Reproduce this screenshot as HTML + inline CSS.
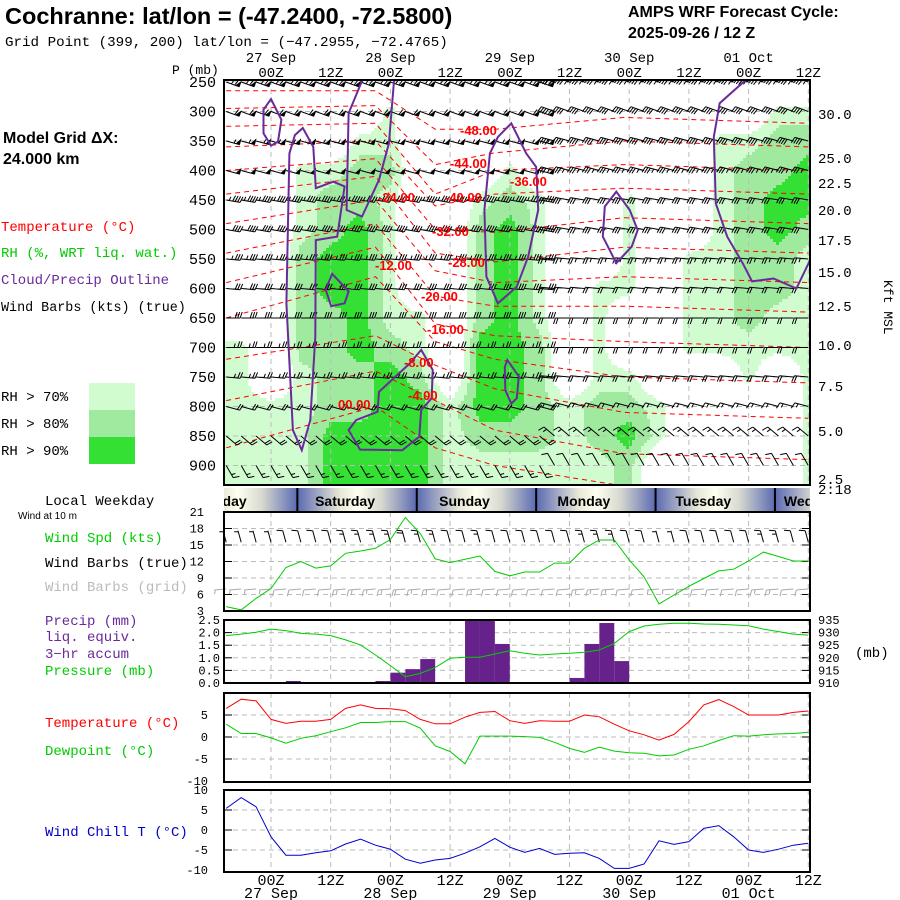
<!DOCTYPE html>
<html><head><meta charset="utf-8">
<style>
body{margin:0;background:#fff;}
svg{display:block;}
text{font-family:"Liberation Mono",monospace;}
.sans{font-family:"Liberation Sans",sans-serif;}
</style></head>
<body>
<svg id="chart" width="900" height="900" viewBox="0 0 900 900" xmlns="http://www.w3.org/2000/svg">
<defs>
<linearGradient id="dayg" x1="0" x2="1" y1="0" y2="0">
<stop offset="0" stop-color="#5b6ab2"/><stop offset="0.35" stop-color="#e6e6d6"/><stop offset="0.5" stop-color="#fffff0"/><stop offset="0.7" stop-color="#d8dad0"/><stop offset="1" stop-color="#5b6ab2"/>
</linearGradient>
<clipPath id="mainclip"><rect x="224" y="80" width="586" height="405"/></clipPath>
<clipPath id="dayclip"><rect x="224" y="488" width="586" height="24"/></clipPath>
</defs>
<g id="static">
<text class="sans" x="5" y="24" font-size="23.5" font-weight="bold">Cochranne:  lat/lon = (-47.2400, -72.5800)</text>
<text x="5" y="46" font-size="14.2">Grid Point (399, 200) lat/lon = (−47.2955, −72.4765)</text>
<text class="sans" x="628" y="17" font-size="16" font-weight="bold">AMPS WRF Forecast Cycle:</text>
<text class="sans" x="628" y="38" font-size="16" font-weight="bold">2025-09-26 / 12  Z</text>
<text class="sans" x="3" y="143" font-size="16" font-weight="bold">Model Grid ΔX:</text>
<text class="sans" x="3" y="164" font-size="16" font-weight="bold"> 24.000 km</text>
<text x="1" y="231" font-size="14" fill="#f00">Temperature (°C)</text>
<text x="1" y="257" font-size="14" fill="#0c0">RH (%, WRT liq. wat.)</text>
<text x="1" y="284" font-size="14" fill="#6a2a9a">Cloud/Precip Outline</text>
<text x="1" y="311" font-size="13.4">Wind Barbs (kts) (true)</text>
<text x="1" y="401" font-size="14">RH &gt; 70%</text>
<text x="1" y="428" font-size="14">RH &gt; 80%</text>
<text x="1" y="455" font-size="14">RH &gt; 90%</text>
<rect x="89" y="383" width="46" height="27" fill="#d0fcd0"/>
<rect x="89" y="410" width="46" height="27" fill="#a0eaa0"/>
<rect x="89" y="437" width="46" height="27" fill="#33e033"/>
<text x="45" y="505" font-size="14">Local Weekday</text>
<text class="sans" x="18" y="519" font-size="10">Wind at 10 m</text>
<text x="45" y="542" font-size="14" fill="#0c0">Wind Spd (kts)</text>
<text x="45" y="567" font-size="14">Wind Barbs (true)</text>
<text x="45" y="591" font-size="14" fill="#bbb">Wind Barbs (grid)</text>
<text x="45" y="625" font-size="14" fill="#6a2a9a">Precip (mm)</text>
<text x="45" y="641" font-size="14" fill="#6a2a9a">liq. equiv.</text>
<text x="45" y="658" font-size="14" fill="#6a2a9a">3−hr accum</text>
<text x="45" y="675" font-size="14" fill="#0c0">Pressure (mb)</text>
<text x="45" y="727" font-size="14" fill="#f00">Temperature (°C)</text>
<text x="45" y="755" font-size="14" fill="#0c0">Dewpoint (°C)</text>
<text x="45" y="836" font-size="14" fill="#00c">Wind Chill T (°C)</text>
<text x="172" y="74" font-size="13">P (mb)</text>
<text x="855" y="657" font-size="14">(mb)</text>
<text x="0" y="0" font-size="13" transform="translate(884,280) rotate(90)">Kft MSL</text>
</g>
<g id="dyn"></g>
</svg>
<script>
// ---------- data ----------
const levels=[250,300,350,400,450,500,550,600,650,700,750,800,850,900];
const hours=[0,3,6,9,12,15,18,21,24,27,30,33,36,39,42,45,48,51,54,57,60,63,66,69,72,75,78,81,84,87,90,93,96,99,102,105,108,111,114,117];
const windSpd=[3.8,3.2,5.3,7.1,10.9,12.0,10.8,11.2,13.5,13.9,14.4,16.0,20.0,17.1,12.5,11.8,12.4,13.0,10.2,9.4,10.1,10.1,11.7,11.7,14.4,15.9,15.9,12.3,9.2,4.3,5.9,7.5,8.9,10.3,10.6,12.1,13.7,12.9,12.1,12.1];
const precip=[0,0,0,0,0.08,0,0,0,0,0.04,0.08,0.41,0.55,0.95,0.04,0,2.6,2.6,1.55,0,0,0,0,0.2,1.55,2.38,0.87,0,0,0,0,0,0,0,0,0,0,0,0];
const sfcPres=[928.8,929.4,930.1,931.4,930.8,929.7,929.4,928.8,927.1,925.1,921.1,916.9,912.5,913.8,916.1,919.8,920.2,920.2,921.5,922.8,921.8,921.1,921.5,921.8,922.2,923.1,925.7,930.4,932.6,933.3,933.7,933.7,933.4,933.3,933.0,932.7,931.4,930.4,929.4,929.0];
const temp=[6.5,8.6,8.2,4.0,3.1,3.6,3.6,4.0,6.5,7.3,6.5,6.4,6.0,4.0,3.0,3.0,4.5,5.6,5.8,3.7,3.1,3.7,3.6,3.6,5.0,4.6,2.9,1.4,0.5,-0.7,0.6,3.5,7.3,8.5,6.9,5.0,5.0,5.0,5.6,5.9];
const dewpt=[2.9,0.8,0.8,-0.2,-1.4,-0.3,0.3,1.2,2.1,3.3,3.3,3.5,3.5,2.0,-2.0,-3.3,-6.1,0.2,0.2,0.2,0.1,-0.1,-1.2,-2.6,-3.5,-2.3,-3.2,-3.6,-3.7,-4.3,-4.1,-2.8,-2.0,-0.8,0.3,0.2,0.5,0.7,0.8,1.1];
const windChill=[5.4,8.1,5.8,-1.7,-6.3,-6.3,-5.7,-5.2,-3.5,-2.3,-3.8,-4.8,-7.3,-8.3,-7.5,-7.1,-5.8,-4.2,-2.1,-4.3,-5.6,-4.6,-6.1,-5.8,-5.7,-7.1,-9.6,-9.6,-8.5,-2.7,-3.6,-2.9,0.4,1.1,-1.7,-5.0,-5.6,-4.8,-3.8,-3.3];
// RH grid: 20 columns (6-hourly, centred at 3h+6c) x 14 levels
const rhCols=[
[50,50,50,50,50,50,50,50,50,75,75,75,75,75],
[50,50,50,50,50,50,50,50,50,50,50,75,75,75],
[50,50,50,75,75,75,85,85,85,85,75,75,75,75],
[50,50,50,75,85,85,95,95,85,85,85,85,95,95],
[50,50,75,85,85,95,95,95,95,95,85,85,95,95],
[50,75,75,85,75,75,75,75,75,85,95,95,95,95],
[50,50,50,50,50,50,50,50,75,75,85,95,95,95],
[50,50,50,50,50,50,50,50,50,50,50,75,75,75],
[50,50,50,50,75,85,85,85,85,95,95,95,85,75],
[50,50,50,75,85,95,95,95,95,95,95,95,85,75],
[50,50,50,50,75,75,75,75,75,85,85,85,85,75],
[50,50,50,50,50,50,50,50,50,50,50,75,75,75],
[50,50,50,50,50,50,50,75,75,75,75,85,85,75],
[50,50,50,50,75,75,75,75,50,50,75,85,95,85],
[50,50,50,50,50,50,50,50,50,50,50,75,75,50],
[50,50,50,50,50,50,75,75,75,75,50,50,50,50],
[50,50,75,75,75,75,75,75,75,75,50,50,50,50],
[50,50,75,85,85,85,85,85,85,75,75,50,50,50],
[50,75,85,85,95,95,85,85,75,75,50,50,50,50],
[50,75,85,95,95,85,75,75,75,75,75,75,75,75]];
const isoKnots=[0,30,42,54,80,117];
const isoVals=[0,-4,-8,-12,-16,-20,-24,-28,-32,-36,-40,-44,-48];
const isoPres=[
[870,800,870,900,935,940],
[790,740,790,840,880,890],
[720,680,730,770,810,820],
[650,580,690,720,750,760],
[590,530,660,680,690,700],
[540,490,613,630,630,640],
[490,450,570,590,580,590],
[440,410,540,555,530,540],
[400,380,500,505,480,490],
[360,350,460,440,430,440],
[325,320,440,400,390,400],
[295,290,390,370,350,360],
[265,265,330,330,310,320]];
const levelSpd=[65,60,55,50,45,40,35,30,30,25,25,20,20,15];
const levelDir=[290,290,285,285,280,280,275,275,270,270,275,285,310,330];
// feather side per time: 1 = westerly from left half, -1 = eastern half style
const timeRegime=[1,1,1,1,1,1,1,1,1,1,1,1,1,1,1,1,1,1,1,1,1,1,-1,-1,-1,-1,-1,-1,-1,-1,-1,-1,-1,-1,-1,-1,-1,-1,-1,-1];
const outlines=[
{closed:true,pts:[[9,279],[11.1,314],[10.4,351],[9,358],[7.5,337],[7.5,297]]},
{closed:true,pts:[[15.4,328],[17.5,360],[18,430],[21.5,419],[23.8,427],[22.3,512],[18,518],[17.9,682],[16.9,823],[15.2,874],[13.4,840],[12.1,625],[12.7,371],[13.8,340]]},
{closed:false,pts:[[27.7,240],[24.6,303],[24.2,467],[27.3,478],[30.7,416],[32.7,354],[33.8,240]]},
{closed:true,pts:[[21.3,575],[24.6,605],[23.8,625],[21.1,630],[20,602]]},
{closed:true,pts:[[39.2,704],[41.5,738],[41.3,786],[39.2,806],[38.8,851],[35.4,874],[26.9,873],[24.6,840],[26.1,823],[30.4,809],[30.7,775],[36.9,727]]},
{closed:true,pts:[[57.3,320],[60.3,371],[62.3,394],[62.7,467],[60.7,546],[58.4,597],[54.6,625],[52.3,580],[51.9,467],[53,371],[54.6,343]]},
{closed:true,pts:[[56.5,721],[58.8,749],[58.4,786],[57.3,795],[56.1,772],[56,733]]},
{closed:true,pts:[[78.4,436],[81.1,467],[82.7,501],[81.5,529],[78.4,557],[75.7,512],[76.1,461]]},
{closed:false,pts:[[105.3,240],[99.2,286],[98,343],[98.4,456],[100.7,512],[103.8,557],[105.7,588],[110,583],[114.6,600],[117.7,546],[119,500]]}];
const isoLabels=[["-48.00",460,135],["-44.00",450,168],["-40.00",445,202],["-36.00",510,186],["-32.00",432,236],["-28.00",448,267],["-24.00",378,202],["-12.00",375,270],["-20.00",421,301],["-16.00",427,334],["-8.00",404,367],["-4.00",408,400],["00.00",338,409]];
const pTicks=[250,300,350,400,450,500,550,600,650,700,750,800,850,900];
const kftTicks=[["30.0",114],["25.0",158],["22.5",183],["20.0",210],["17.5",240],["15.0",272],["12.5",306],["10.0",345],["7.5",386],["5.0",431],["2.5",479],["2:18",489]];
const topDates=[["27 Sep",9],["28 Sep",33],["29 Sep",57],["30 Sep",81],["01 Oct",105]];
const timeTicks=[["00Z",9],["12Z",21],["00Z",33],["12Z",45],["00Z",57],["12Z",69],["00Z",81],["12Z",93],["00Z",105],["12Z",117]];
const dayNames=["Friday","Saturday","Sunday","Monday","Tuesday","Wednesday"];
const dayStarts=[-9.7,14.3,38.3,62.3,86.3,110.3];

// ---------- scales ----------
const X=t=>271+(t-9)*4.975;
const TX=x=>(x-271)/4.975+9;
const PY=p=>82+(p-250)*0.59;
const YP=y=>(y-82)/0.59+250;
const WY=k=>512+(21-k)*5.5;
const RY=mm=>683-mm*25.2;
const SPY=mb=>683-(mb-910)*2.52;
const TY=c=>737-c*4.4;
const CY=c=>830-c*4.0;
const NS="http://www.w3.org/2000/svg";
const dyn=document.getElementById('dyn');
function mk(tag,attrs,parent){const e=document.createElementNS(NS,tag);for(const k in attrs)e.setAttribute(k,attrs[k]);(parent||dyn).appendChild(e);return e;}
function grp(name,extra){const g=mk('g',extra||{});


return g;}

// ---------- main panel ----------
const mainG=grp('height-time-section',{'clip-path':'url(#mainclip)'});
mk('rect',{x:224,y:80,width:586,height:405,fill:'#fff'},mainG);
const rhG=grp('rh-fill');mainG.appendChild(rhG);
function rhAt(t,p){
  let fc=(t-3)/6;fc=Math.max(0,Math.min(rhCols.length-1,fc));
  let fl=(p-250)/50;fl=Math.max(0,Math.min(levels.length-1,fl));
  const c0=Math.floor(fc),c1=Math.min(c0+1,rhCols.length-1),l0=Math.floor(fl),l1=Math.min(l0+1,levels.length-1);
  const a=fc-c0,b=fl-l0;
  return (rhCols[c0][l0]*(1-a)+rhCols[c1][l0]*a)*(1-b)+(rhCols[c0][l1]*(1-a)+rhCols[c1][l1]*a)*b;
}
const CS=3;
for(let y=80;y<485;y+=CS){
  let runStart=null,runCol=null;
  const flush=(xe)=>{if(runCol){const r=mk('rect',{x:runStart,y:y,width:xe-runStart+0.3,height:CS+0.3,fill:runCol},rhG);
    
    }};
  for(let x=224;x<=810;x+=CS){
    let col=null;
    if(x<810){const v=rhAt(TX(x+CS/2),YP(y+CS/2));col=v>=90?'#33e033':(v>=80?'#a0eaa0':(v>=70?'#d0fcd0':null));}
    if(col!==runCol){flush(x);runStart=x;runCol=col;}
  }
  flush(810);
}
const gridG=grp('main-grid');mainG.appendChild(gridG);
levels.forEach(p=>mk('line',{x1:224,x2:810,y1:PY(p),y2:PY(p),stroke:'#bbb','stroke-dasharray':'5,4'},gridG));
timeTicks.forEach(tt=>mk('line',{x1:X(tt[1]),x2:X(tt[1]),y1:80,y2:485,stroke:'#bbb','stroke-dasharray':'5,4'},gridG));
const isoG=grp('isotherms');mainG.appendChild(isoG);
isoPres.forEach((row,i)=>{
  const d=row.map((p,j)=>(j?'L':'M')+X(isoKnots[j]).toFixed(1)+','+PY(p).toFixed(1)).join(' ');
  const l=mk('path',{d:d,fill:'none',stroke:'#f00','stroke-width':1,'stroke-dasharray':'5,4'},isoG);
  
  
});
function barb(g,x,y,spd,dir,color,len){
  const a=dir*Math.PI/180;const ux=Math.sin(a),uy=-Math.cos(a);
  const ex=x+ux*len,ey=y+uy*len;
  let d='M'+x.toFixed(1)+','+y.toFixed(1)+'L'+ex.toFixed(1)+','+ey.toFixed(1);
  const px=uy,py=-ux;const fl=6;let s=Math.round(spd/5)*5;let pos=0;let polys='';
  while(s>=50){const bx=ex-ux*pos,by=ey-uy*pos;const cx=ex-ux*(pos+4),cy=ey-uy*(pos+4);
    polys+='M'+bx.toFixed(1)+','+by.toFixed(1)+'L'+(bx+px*fl).toFixed(1)+','+(by+py*fl).toFixed(1)+'L'+cx.toFixed(1)+','+cy.toFixed(1)+'Z';s-=50;pos+=5;}
  while(s>=10){const bx=ex-ux*pos,by=ey-uy*pos;d+='M'+bx.toFixed(1)+','+by.toFixed(1)+'L'+(bx+px*fl+ux*2).toFixed(1)+','+(by+py*fl+uy*2).toFixed(1);s-=10;pos+=2.5;}
  if(s>=5){const bx=ex-ux*(pos+1),by=ey-uy*(pos+1);d+='M'+bx.toFixed(1)+','+by.toFixed(1)+'L'+(bx+px*4+ux).toFixed(1)+','+(by+py*4+uy).toFixed(1);}
  const pth=mk('path',{d:d,stroke:color,'stroke-width':1,fill:'none'},g);
  
  
  if(polys){mk('path',{d:polys,fill:color,stroke:color,'stroke-width':0.5},g);}
}
const barbG=grp('upper-wind-barbs');mainG.appendChild(barbG);
levels.forEach((p,i)=>{hours.forEach((t,j)=>{
  const dir=timeRegime[j]>0?(levelDir[i]-180):levelDir[i];
  const spd=timeRegime[j]>0?levelSpd[i]:levelSpd[i]*0.7;
  barb(barbG,X(t),PY(p),spd,dir,'#000',14);});});
const outG=grp('cloud-outlines');mainG.appendChild(outG);
outlines.forEach(o=>{
  const d=o.pts.map((pt,j)=>(j?'L':'M')+X(pt[0]).toFixed(1)+','+PY(pt[1]).toFixed(1)).join(' ')+(o.closed?'Z':'');
  const e=mk('path',{d:d,fill:'none',stroke:'#6a2a9a','stroke-width':2},outG);
  
  
});
isoLabels.forEach(l=>{const t=mk('text',{x:l[1],y:l[2],'font-size':13,'font-weight':'bold',fill:'#f00',class:'sans'},mainG);t.textContent=l[0];
  
  });
mk('rect',{x:224,y:80,width:586,height:405,fill:'none',stroke:'#000','stroke-width':2});
pTicks.forEach(p=>{const t=mk('text',{x:216,y:PY(p)+5,'font-size':15,'text-anchor':'end'});t.textContent=p;
  
  });
kftTicks.forEach(k=>{const t=mk('text',{x:818,y:k[1]+5,'font-size':14});t.textContent=k[0];
  
  });
topDates.forEach(d=>{const t=mk('text',{x:X(d[1]),y:62,'font-size':14,'text-anchor':'middle'});t.textContent=d[0];
  
  });
timeTicks.forEach(tt=>{const t=mk('text',{x:X(tt[1]),y:77,'font-size':14,'text-anchor':'middle'});t.textContent=tt[0];
  
  });

// ---------- day bar ----------
const dayG=grp('weekday-bar',{'clip-path':'url(#dayclip)'});
dayStarts.forEach((s,i)=>{
  const x0=X(s),x1=X(s+24);
  mk('rect',{x:x0,y:488,width:x1-x0,height:24,fill:'url(#dayg)'},dayG);
  mk('line',{x1:x0,x2:x0,y1:488,y2:512,stroke:'#000','stroke-width':2},dayG);
  const t=mk('text',{x:(x0+x1)/2-12,y:506,'font-size':14,'font-weight':'bold','text-anchor':'middle',class:'sans'},dayG);t.textContent=dayNames[i];
  
  
});

// ---------- panels ----------
function panel(name,y0,y1,gridVals,yf){
  const g=grp(name);
  mk('rect',{x:224,y:y0,width:586,height:y1-y0,fill:'#fff'},g);
  gridVals.forEach(v=>{mk('line',{x1:224,x2:810,y1:yf(v),y2:yf(v),stroke:'#bbb','stroke-dasharray':'5,4'},g);
    mk('line',{x1:224,x2:232,y1:yf(v),y2:yf(v),stroke:'#000'},g);mk('line',{x1:802,x2:810,y1:yf(v),y2:yf(v),stroke:'#000'},g);});
  timeTicks.forEach(tt=>mk('line',{x1:X(tt[1]),x2:X(tt[1]),y1:y0,y2:y1,stroke:'#bbb','stroke-dasharray':'5,4'},g));
  return g;
}
function line(g,vals,yf,color,name){
  const d=vals.map((v,i)=>(i?'L':'M')+X(hours[i]).toFixed(1)+','+yf(v).toFixed(1)).join(' ');
  const e=mk('path',{d:d,fill:'none',stroke:color,'stroke-width':1},g);
  
  
}
function frame(y0,y1){mk('rect',{x:224,y:y0,width:586,height:y1-y0,fill:'none',stroke:'#000','stroke-width':2});}
function ticks(arr,yf,x,anchor,size){arr.forEach(v=>{const t=mk('text',{x:x,y:yf(v[0])+4,'font-size':size,'text-anchor':anchor});t.textContent=v[1];
  
  });}

const wG=panel('wind-panel',512,611,[6,9,12,15,18],WY);
const sbG=grp('surface-barbs');wG.appendChild(sbG);
hours.forEach((t,i)=>{barb(sbG,X(t),WY(15.5),windSpd[i],345,'#000',12);barb(sbG,X(t),WY(7),windSpd[i],265,'#aaa',12);});
line(wG,windSpd,WY,'#0c0','wind-speed-line');
frame(512,611);
ticks([[21,'21'],[18,'18'],[15,'15'],[12,'12'],[9,'9'],[6,'6'],[3,'3']],WY,204,'end',12);

const pG=panel('precip-panel',620,683,[0.5,1,1.5,2],RY);
const barsG=grp('precip-bars');pG.appendChild(barsG);
precip.forEach((v,i)=>{if(v<=0)return;const top=RY(Math.min(v,2.5));
  const r=mk('rect',{x:X(hours[i]),y:top,width:X(hours[i+1])-X(hours[i]),height:683-top,fill:'#66228a'},barsG);
  
  });
line(pG,sfcPres,SPY,'#0c0','surface-pressure-line');
frame(620,683);
ticks([[2.5,'2.5'],[2,'2.0'],[1.5,'1.5'],[1,'1.0'],[0.5,'0.5'],[0,'0.0']],RY,220,'end',12);
ticks([[935,'935'],[930,'930'],[925,'925'],[920,'920'],[915,'915'],[910,'910']],SPY,818,'start',12);

const tG=panel('temperature-panel',693,782,[5,0,-5],TY);
line(tG,temp,TY,'#f00','temperature-line');
line(tG,dewpt,TY,'#0c0','dewpoint-line');
frame(693,782);
ticks([[5,'5'],[0,'0'],[-5,'-5'],[-10,'-10']],TY,208,'end',12);

const cG=panel('windchill-panel',790,872,[5,0,-5],CY);
line(cG,windChill,CY,'#00c','windchill-line');
frame(790,872);
ticks([[10,'10'],[5,'5'],[0,'0'],[-5,'-5'],[-10,'-10']],CY,208,'end',12);

timeTicks.forEach(tt=>{const t=mk('text',{x:X(tt[1]),y:885,'font-size':15,'text-anchor':'middle'});t.textContent=tt[0];
  
  });
topDates.forEach(d=>{const t=mk('text',{x:X(d[1]),y:898,'font-size':15,'text-anchor':'middle'});t.textContent=d[0];
  
  });
</script>
</body></html>
